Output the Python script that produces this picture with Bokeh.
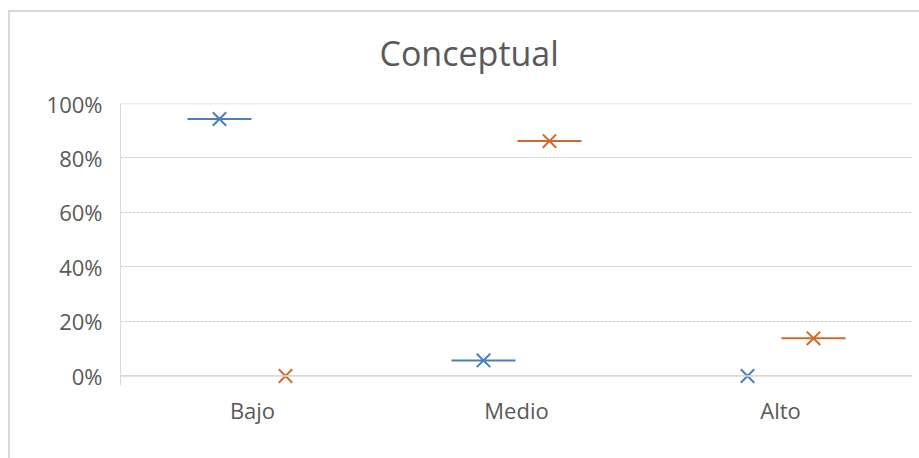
from bokeh.plotting import figure
from bokeh.models import ColumnDataSource, FactorRange, Range1d, NumeralTickFormatter, FixedTicker, Span
from bokeh.transform import dodge
from bokeh.embed import file_html
from bokeh.resources import INLINE

# ---- data ----
categories = ["Bajo", "Medio", "Alto"]
serie_1 = [0.943, 0.057, 0.0]   # blue series
serie_2 = [0.0, 0.862, 0.138]   # orange series
y_ticks = [0.0, 0.2, 0.4, 0.6, 0.8, 1.0]
title_text = "Conceptual"

FONT = "Open Sans"
TXT = "#595959"
GRID = "#d0d0d0"
series = [(serie_1, "#4A7EBB", -0.125), (serie_2, "#D0692A", 0.125)]

p = figure(
    x_range=FactorRange(*categories, range_padding=0),
    y_range=Range1d(-0.035, 1.0),
    width=911, height=458,
    output_backend="svg", toolbar_location=None,
    min_border_left=112, min_border_right=7, min_border_top=103, min_border_bottom=73,
    title=title_text,
)
# chart-area border (top and left edges) drawn as CSS background behind a transparent canvas
p.styles = {
    "margin-left": "8px",
    "background": "linear-gradient(#d9d9d9,#d9d9d9) 0 10px / 100% 2px no-repeat, "
                  "linear-gradient(#d9d9d9,#d9d9d9) 0 10px / 2px 100% no-repeat",
}

p.title.text_font = FONT
p.title.text_font_size = "34px"
p.title.text_font_style = "normal"
p.title.text_color = TXT
p.title.align = "left"
p.title.offset = 259
p.title.vertical_align = "middle"
p.title.standoff = 54

p.outline_line_color = None
p.background_fill_color = "white"
p.border_fill_color = None

# axes
p.yaxis.ticker = FixedTicker(ticks=y_ticks)
p.yaxis.formatter = NumeralTickFormatter(format="0%")
p.yaxis.major_tick_line_color = None
p.yaxis.minor_tick_line_color = None
p.yaxis.axis_line_color = "#d9d9d9"
p.yaxis.major_label_text_font = FONT
p.yaxis.major_label_text_font_size = "22px"
p.yaxis.major_label_text_color = TXT
p.yaxis.major_label_standoff = 12

p.xaxis.major_tick_line_color = None
p.xaxis.axis_line_color = None
p.xaxis.major_label_text_font = FONT
p.xaxis.major_label_text_font_size = "22px"
p.xaxis.major_label_text_color = TXT
p.xaxis.major_label_standoff = 3

p.xgrid.grid_line_color = None
p.ygrid.grid_line_color = GRID
p.ygrid.grid_line_dash = "3 1"
p.ygrid.grid_line_width = 1

p.add_layout(Span(location=0, dimension="width", line_color="#d9d9d9", line_width=1.5))
p.add_layout(Span(location=1.0, dimension="width", line_color="#d9d9d9", line_width=1.5))

for vals, color, off in series:
    src = ColumnDataSource(dict(cat=categories, val=vals))
    nz = [i for i, v in enumerate(vals) if v > 0]
    src_nz = ColumnDataSource(dict(cat=[categories[i] for i in nz], val=[vals[i] for i in nz]))
    p.scatter(x=dodge("cat", off, range=p.x_range), y="val", source=src_nz,
              marker="dash", size=64, line_color=color, line_width=2)
    p.scatter(x=dodge("cat", off, range=p.x_range), y="val", source=src,
              marker="x", size=19, line_color=color, line_width=2)

open("out.html", "w").write(file_html(p, INLINE))
